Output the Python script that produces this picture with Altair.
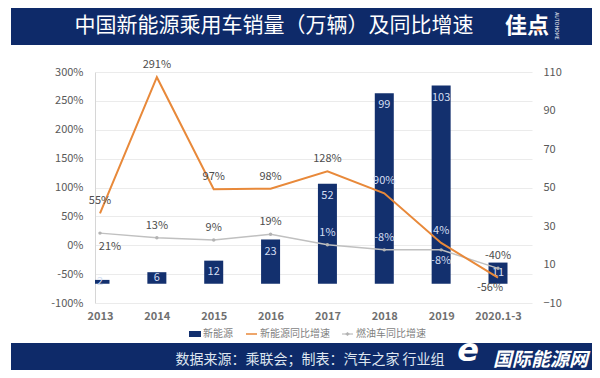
import json
import altair as alt
import pandas as pd

# ---------------- data ----------------
categories = ["2013", "2014", "2015", "2016", "2017", "2018", "2019", "2020.1-3"]
nev_sales = [2, 6, 12, 23, 52, 99, 103, 11]          # 新能源销量（万辆）
nev_yoy = [55, 291, 97, 98, 128, 90, 4, -56]          # 新能源同比增速 %
ice_yoy = [21, 13, 9, 19, 1, -8, -8, -40]             # 燃油车同比增速 %

nev_label_below = ["2020.1-3"]
ice_label_below = ["2013", "2019"]

# ---------------- style ----------------
FONT = "Noto Sans CJK SC"
NAVY = "#0e2a69"
BAR = "#13306e"
ORANGE = "#e8893a"
GRAY = "#c0c0c0"
DARK = "#4d4d4d"
LIGHT = "#d3def2"
AXIS_TXT = "#595959"

W, H = 437, 231
L_DOM = [-100, 300]
R_DOM = [-10, 110]
X_DOM = [0, 7.51]
ABOVE, BELOW = -12, 11


def px_left(v):
    return (v - L_DOM[0]) / (L_DOM[1] - L_DOM[0]) * H


def px_right(v):
    return (v - R_DOM[0]) / (R_DOM[1] - R_DOM[0]) * H


def on_bar(rate, sales, dy):
    c = px_left(rate) - dy
    return bool(px_right(0) < c < px_right(sales))


df = pd.DataFrame({
    "i": list(range(len(categories))),
    "cat": categories,
    "sales": nev_sales,
    "nev": nev_yoy,
    "ice": ice_yoy,
})
df["nev_in"] = [on_bar(r, s, BELOW if c in nev_label_below else ABOVE)
                for r, s, c in zip(nev_yoy, nev_sales, categories)]
df["ice_in"] = [on_bar(r, s, BELOW if c in ice_label_below else ABOVE)
                for r, s, c in zip(ice_yoy, nev_sales, categories)]

cat_js = json.dumps(categories)
x_axis = alt.Axis(values=list(range(len(categories))), labelExpr=f"{cat_js}[datum.value]",
                  title=None, grid=False, ticks=False, domain=False, labelPadding=7,
                  labelFont=FONT, labelFontSize=11, labelFontWeight="bold",
                  labelColor="#707070", labelFlush=False)


def X():
    return alt.X("i:Q", scale=alt.Scale(domain=X_DOM, nice=False, zero=False), axis=x_axis)


r_axis = alt.Axis(orient="right", values=list(range(-10, 111, 20)), title=None, grid=False,
                  ticks=False, domain=False, labelPadding=11, labelFont=FONT,
                  labelFontSize=11, labelColor=AXIS_TXT, labelFlush=False)
l_axis = alt.Axis(orient="left", values=list(range(-100, 301, 50)),
                  labelExpr="datum.value + '%'", title=None, grid=True, gridColor="#ebebeb",
                  ticks=False, domain=True, domainColor="#d6d6d6", labelPadding=12,
                  labelFont=FONT, labelFontSize=11, labelColor=AXIS_TXT, labelFlush=False)


def YR(field):
    return alt.Y(f"{field}:Q", scale=alt.Scale(domain=R_DOM, nice=False, zero=False), axis=r_axis)


def YL(field):
    return alt.Y(f"{field}:Q", scale=alt.Scale(domain=L_DOM, nice=False, zero=False), axis=l_axis)


# ---------------- right axis group: bars ----------------
bars = alt.Chart().mark_bar(size=19, color=BAR, clip=True).encode(
    x=X(), y=YR("sales"), y2=alt.datum(0))
bar_labels = alt.Chart().transform_calculate(
    ly="max(datum.sales - 6.3, datum.sales / 2)"
).mark_text(font=FONT, fontSize=11, color=LIGHT, baseline="middle", clip=True).encode(
    x=X(), y=YR("ly"), text="sales:Q")
right = alt.layer(bars, bar_labels, data=df)


# ---------------- left axis group: growth lines ----------------
def rate_labels(field, flag, filt, dy, dx=0):
    return alt.Chart().transform_filter(filt).transform_calculate(
        t=f"datum.{field} + '%'"
    ).mark_text(font=FONT, fontSize=11, dy=dy, dx=dx, baseline="middle").encode(
        x=X(), y=YL(field), text="t:N",
        color=alt.condition(getattr(alt.datum, flag), alt.value(LIGHT), alt.value(DARK)))


nev_line = alt.Chart().mark_line(color=ORANGE, strokeWidth=2).encode(x=X(), y=YL("nev"))
ice_line = alt.Chart().mark_line(color=GRAY, strokeWidth=1.5).encode(x=X(), y=YL("ice"))
ice_pts = alt.Chart().mark_point(filled=True, size=12, color="#b3b3b3", opacity=1).encode(
    x=X(), y=YL("ice"))

nev_below_js = json.dumps(nev_label_below)
ice_below_js = json.dumps(ice_label_below)
left = alt.layer(
    ice_line, ice_pts, nev_line,
    rate_labels("nev", "nev_in", f"indexof({nev_below_js}, datum.cat) < 0", ABOVE),
    rate_labels("nev", "nev_in", f"indexof({nev_below_js}, datum.cat) >= 0", BELOW - 1, -8),
    rate_labels("ice", "ice_in", f"indexof({ice_below_js}, datum.cat) < 0", ABOVE),
    rate_labels("ice", "ice_in", f"indexof({ice_below_js}, datum.cat) >= 0 && datum.i == 0", BELOW + 3, 10),
    rate_labels("ice", "ice_in", f"indexof({ice_below_js}, datum.cat) >= 0 && datum.i > 0", BELOW),
    data=df,
)

# ---------------- decorations: banners, legend ----------------
one = alt.Data(values=[{"k": 0}])


def txt(text, x, y, **kw):
    base = dict(font=FONT, baseline="middle")
    base.update(kw)
    return alt.Chart(one).mark_text(text=text, **base).encode(x=alt.value(x), y=alt.value(y))


top_banner = alt.Chart(one).mark_rect(color=NAVY).encode(
    x=alt.value(-84), x2=alt.value(500), y=alt.value(-64), y2=alt.value(-27))
title = txt("中国新能源乘用车销量（万辆）及同比增速", 179, -46, fontSize=21, color="white", align="center")
logo_dot = alt.Chart(one).mark_point(filled=True, size=26, color="#f07a22", opacity=1).encode(
    x=alt.value(444), y=alt.value(-43))
logo = txt("佳点", 432, -46, fontSize=22, fontWeight="bold", color="white", align="center")
logo_small = txt("AUTOHOME", 462, -46, fontSize=5, color="white", align="center", angle=90)

foot_banner = alt.Chart(one).mark_rect(color=NAVY).encode(
    x=alt.value(-84), x2=alt.value(497), y=alt.value(271), y2=alt.value(298))
foot_text = txt("数据来源：乘联会；制表：汽车之家 行业组", 215, 288, fontSize=14,
                color="#dfe6f0", align="center")
wm_e = txt("e", 373, 279, font="DejaVu Sans", fontSize=32, fontWeight="bold",
           fontStyle="italic", color="white", align="center")
wm_text = txt("国际能源网", 398, 288, fontSize=19, fontWeight="bold", fontStyle="italic",
              color="white", align="left")

leg_sq = alt.Chart(one).mark_rect(color=BAR).encode(
    x=alt.value(94), x2=alt.value(106), y=alt.value(259), y2=alt.value(265))
leg_t1 = txt("新能源", 108, 262, fontSize=10, color="#7f7f7f", align="left")
leg_l2 = alt.Chart(one).mark_rule(color=ORANGE, strokeWidth=1.5).encode(
    x=alt.value(151), x2=alt.value(162), y=alt.value(262))
leg_t2 = txt("新能源同比增速", 165, 262, fontSize=10, color="#7f7f7f", align="left")
leg_l3 = alt.Chart(one).mark_rule(color="#b0b0b0", strokeWidth=1).encode(
    x=alt.value(247), x2=alt.value(258), y=alt.value(262))
leg_p3 = alt.Chart(one).mark_point(shape="cross", filled=True, size=14, color="#b0b0b0", opacity=1).encode(
    x=alt.value(252.5), y=alt.value(262))
leg_t3 = txt("燃油车同比增速", 261, 262, fontSize=10, color="#7f7f7f", align="left")

chart = alt.layer(
    right, left,
    top_banner, title, logo_dot, logo, logo_small,
    foot_banner, foot_text, wm_e, wm_text,
    leg_sq, leg_t1, leg_l2, leg_t2, leg_l3, leg_p3, leg_t3,
).resolve_scale(y="independent").properties(
    width=W, height=H,
    autosize=alt.AutoSizeParams(type="none"),
    padding={"left": 87, "top": 64, "right": 60, "bottom": 67},
    background="white",
).configure_view(strokeWidth=0)

chart.save("out.html", embed_options={"renderer": "svg", "actions": False})
